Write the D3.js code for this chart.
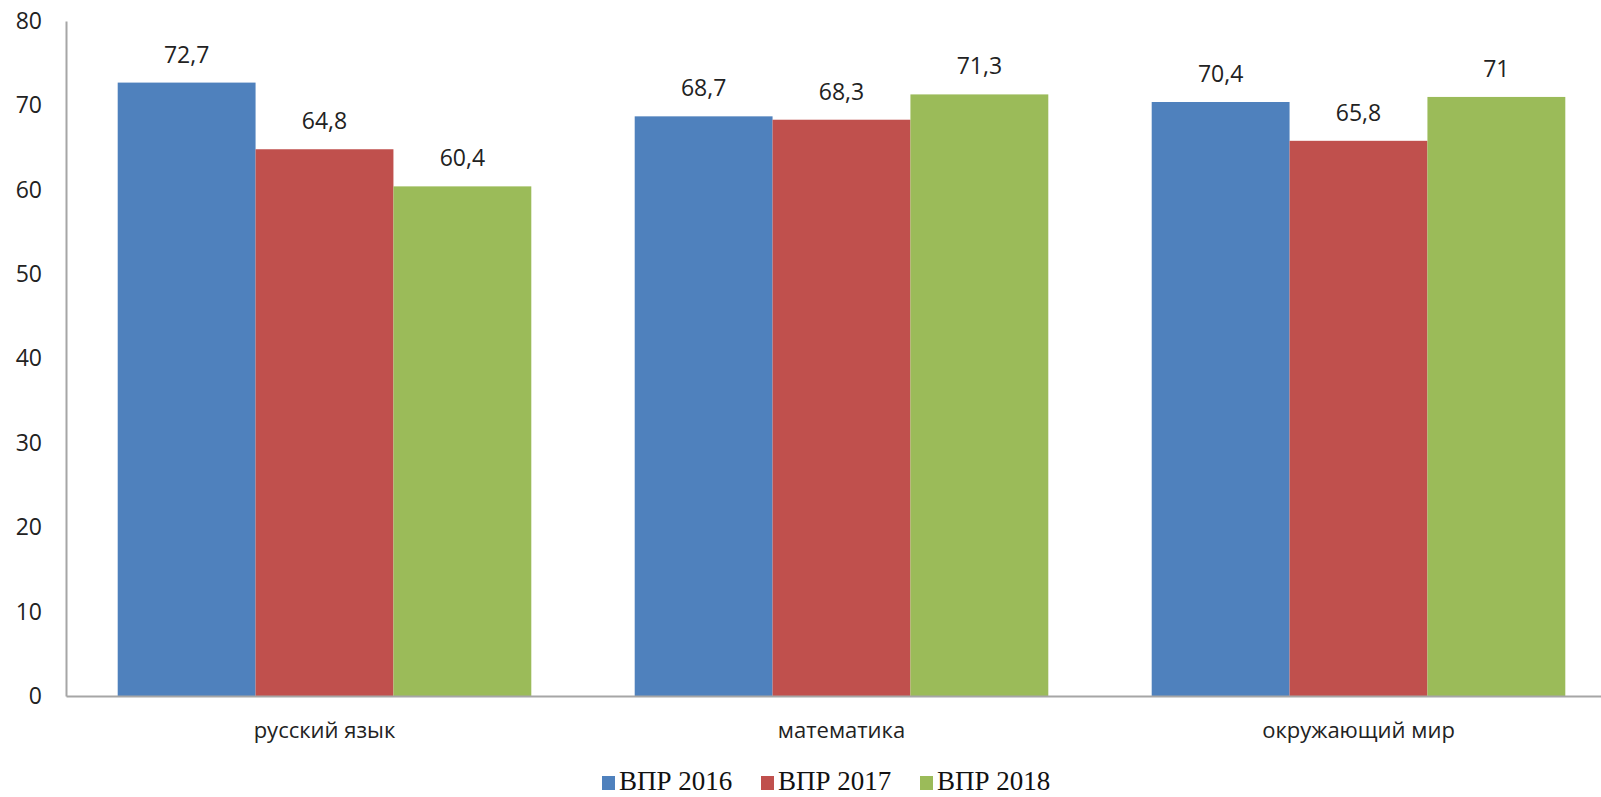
<!DOCTYPE html>
<html><head><meta charset="utf-8">
<script src="https://cdn.jsdelivr.net/npm/d3@7"></script>
<style>body{margin:0;background:#fff}svg{display:block}</style>
</head><body>
<svg id="c" width="1601" height="797"></svg>
<script>
const categories = ["русский язык", "математика", "окружающий мир"];
const seriesNames = ["ВПР 2016", "ВПР 2017", "ВПР 2018"];
const vpr2016 = [72.7, 68.7, 70.4];
const vpr2017 = [64.8, 68.3, 65.8];
const vpr2018 = [60.4, 71.3, 71];
const yTicks = [0, 10, 20, 30, 40, 50, 60, 70, 80];
const colors = ["#4F81BD", "#C0504D", "#9BBB59"];

const series = [vpr2016, vpr2017, vpr2018];
const svg = d3.select("#c");
const x0 = d3.scaleBand().domain(categories).range([66, 1617]).paddingInner(0.2).paddingOuter(0.1);
const x1 = d3.scaleBand().domain(seriesNames).range([0, x0.bandwidth()]);
const y = d3.scaleLinear().domain([0, 80]).range([696, 21]);
const fmt = v => String(v).replace(".", ",");
const font = "'Open Sans', 'Noto Sans', sans-serif";

// y axis
const ya = svg.append("g").attr("transform", "translate(66,0)")
  .call(d3.axisLeft(y).tickValues(yTicks).tickSize(0).tickPadding(24).tickFormat(d3.format("d")));
ya.select(".domain").attr("stroke", "#A6A6A6").attr("stroke-width", 2);
ya.selectAll("text").attr("font-family", font).attr("font-size", 23).attr("fill", "#222");

// bars
categories.forEach((c, ci) => {
  const g = svg.append("g").attr("transform", `translate(${x0(c)},0)`);
  series.forEach((s, si) => {
    const v = s[ci];
    g.append("rect").attr("x", x1(seriesNames[si])).attr("width", x1.bandwidth())
      .attr("y", y(v)).attr("height", y(0) - y(v)).attr("fill", colors[si]);
    g.append("text").attr("x", x1(seriesNames[si]) + x1.bandwidth() / 2).attr("y", y(v) - 20)
      .attr("text-anchor", "middle").attr("font-family", font).attr("font-size", 23).attr("fill", "#222")
      .text(fmt(v));
  });
});

// x axis
const xa = svg.append("g").attr("transform", `translate(0,${y(0)})`)
  .call(d3.axisBottom(x0).tickSize(0).tickPadding(26));
xa.select(".domain").attr("stroke", "#A6A6A6").attr("stroke-width", 2);
xa.selectAll("text").attr("font-family", font).attr("font-size", 22).attr("fill", "#222");

// legend
const lg = svg.append("g").attr("transform", "translate(602,0)");
seriesNames.forEach((n, i) => {
  const gx = i * 159;
  lg.append("rect").attr("x", gx).attr("y", 776).attr("width", 13).attr("height", 14).attr("fill", colors[i]);
  lg.append("text").attr("x", gx + 17).attr("y", 790).attr("font-family", "'Liberation Serif', 'Times New Roman', serif")
    .attr("font-size", 27).attr("fill", "#111").text(n);
});
</script>
</body></html>
